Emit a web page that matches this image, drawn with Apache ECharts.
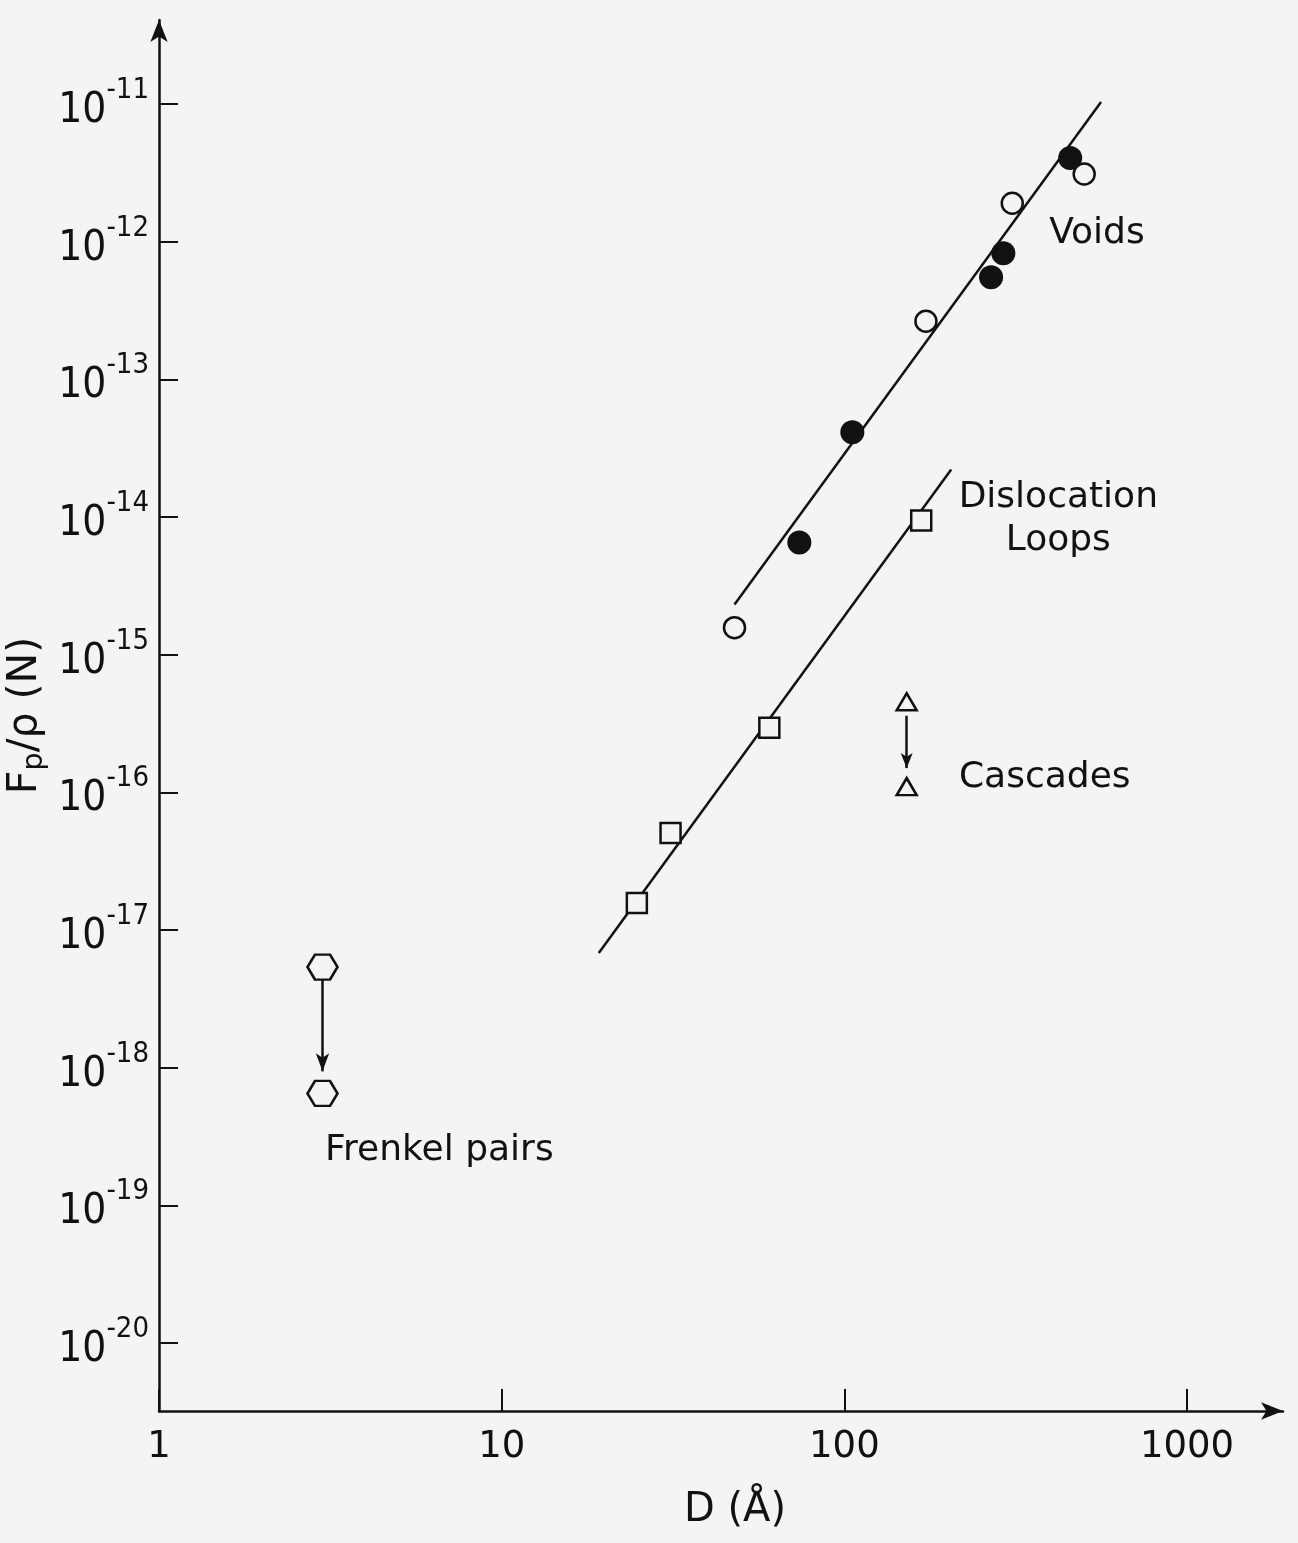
<!DOCTYPE html>
<html><head><meta charset="utf-8">
<script src="https://cdn.jsdelivr.net/npm/echarts@6/dist/echarts.min.js"></script>
<style>html,body{margin:0;padding:0;background:#f4f4f4}#c{width:1298px;height:1543px}</style>
</head><body><div id="c"></div>
<script>
// ---- data ----
const xTicks = [1, 10, 100, 1000];
const yTicks = [1e-20, 1e-19, 1e-18, 1e-17, 1e-16, 1e-15, 1e-14, 1e-13, 1e-12, 1e-11];
const voidsOpen = [[47.8, 1.57e-15], [173, 2.64e-13], [309, 1.9e-12], [501, 3.1e-12]];
const voidsFilled = [[73.9, 6.53e-15], [105.5, 4.12e-14], [268, 5.52e-13], [291, 8.25e-13], [456, 4.05e-12]];
const voidsFit = [[47.8, 2.31e-15], [561, 1.035e-11]];
const loops = [[24.8, 1.57e-17], [31.1, 5.07e-17], [60.4, 2.94e-16], [167.6, 9.43e-15]];
const loopsFit = [[19.2, 6.8e-18], [205, 2.21e-14]];
const cascades = [[152, 4.55e-16], [152, 1.1e-16]];
const cascadesArrow = [[152, 3.6e-16], [152, 1.5e-16]];
const frenkel = [[3, 5.38e-18], [3, 6.5e-19]];
const frenkelArrow = [[3, 4.35e-18], [3, 9.4e-19]];
const notesLeft = [[396, 1.15e-12, 'Voids'], [216, 1.28e-16, 'Cascades'], [3.05, 2.5e-19, 'Frenkel pairs']];
const notesCenter = [[421, 9.6e-15, 'Dislocation\nLoops']];

const INK = '#111';
const BG = '#f4f4f4';
const FONT = 'DejaVu Sans';
const NARROW = 'DejaVu Sans Condensed';
const hexagon = 'path://M0,10 L5,1.34 L15,1.34 L20,10 L15,18.66 L5,18.66 Z';

const chart = echarts.init(document.getElementById('c'), null, {renderer: 'canvas'});
const hollow = {color: BG, borderColor: INK, borderWidth: 2.5, opacity: 1};

chart.setOption({
  backgroundColor: BG,
  animation: false,
  grid: {left: 159, right: 15, top: 20, bottom: 132, containLabel: false, outerBoundsMode: 'none'},
  xAxis: {
    type: 'log', logBase: 10,
    min: 1, max: Math.pow(10, 3.28),
    name: 'D (Å)', nameLocation: 'middle', nameGap: 80, nameMoveOverlap: false,
    nameTextStyle: {fontFamily: FONT, fontSize: 40, color: INK, padding: [0, 0, 0, 28]},
    axisLine: {show: true, symbol: ['none', 'arrow'], symbolSize: [13, 22], lineStyle: {color: INK, width: 2.5}},
    axisTick: {show: true, inside: true, length: 22, customValues: xTicks, lineStyle: {color: INK, width: 2}},
    axisLabel: {show: true, customValues: xTicks, margin: 18, fontFamily: FONT, fontSize: 37, color: INK,
      formatter: v => String(Math.round(v))},
    splitLine: {show: false}, minorTick: {show: false}
  },
  yAxis: {
    type: 'log', logBase: 10,
    min: Math.pow(10, -20.494), max: Math.pow(10, -10.39),
    name: 'F{sub|p}/ρ (N)', nameLocation: 'middle', nameRotate: 90, nameGap: 110, nameMoveOverlap: false,
    nameTextStyle: {fontFamily: FONT, fontSize: 41, color: INK,
      rich: {sub: {fontFamily: FONT, fontSize: 29, color: INK, verticalAlign: 'bottom', lineHeight: 48}}},
    axisLine: {show: true, symbol: ['none', 'arrow'], symbolSize: [13, 22], lineStyle: {color: INK, width: 2.5}},
    axisTick: {show: true, inside: true, length: 19, customValues: yTicks, lineStyle: {color: INK, width: 2}},
    axisLabel: {show: true, customValues: yTicks, margin: 10, color: INK,
      formatter: v => '{b|10}{s|-' + Math.abs(Math.round(Math.log10(v))) + '}',
      rich: {
        b: {fontFamily: NARROW, fontSize: 42, color: INK, verticalAlign: 'bottom', lineHeight: 56},
        s: {fontFamily: NARROW, fontSize: 29, color: INK, verticalAlign: 'top', lineHeight: 56}
      }},
    splitLine: {show: false}, minorTick: {show: false}
  },
  series: [
    {type: 'line', data: voidsFit, symbol: 'none', lineStyle: {color: INK, width: 2.5}, z: 1, silent: true},
    {type: 'line', data: loopsFit, symbol: 'none', lineStyle: {color: INK, width: 2.5}, z: 1, silent: true},
    {type: 'scatter', data: voidsOpen, symbol: 'circle', symbolSize: 21, itemStyle: hollow, z: 3},
    {type: 'scatter', data: voidsFilled, symbol: 'circle', symbolSize: 24, itemStyle: {color: INK, opacity: 1}, z: 3},
    {type: 'scatter', data: loops, symbol: 'rect', symbolSize: 20, itemStyle: hollow, z: 3},
    {type: 'scatter', data: cascades, symbol: 'triangle', symbolSize: [20, 17], itemStyle: hollow, z: 3,
      markLine: {silent: true, symbol: ['none', 'arrow'], symbolSize: [9, 15], label: {show: false},
        lineStyle: {type: 'solid', color: INK, width: 2.5, opacity: 1},
        data: [[{coord: cascadesArrow[0]}, {coord: cascadesArrow[1]}]]}},
    {type: 'scatter', data: frenkel, symbol: hexagon, symbolSize: [30, 25], itemStyle: hollow, z: 3,
      markLine: {silent: true, symbol: ['none', 'arrow'], symbolSize: [10, 18], label: {show: false},
        lineStyle: {type: 'solid', color: INK, width: 2.5, opacity: 1},
        data: [[{coord: frenkelArrow[0]}, {coord: frenkelArrow[1]}]]}},
    {type: 'scatter', data: notesLeft, symbolSize: 0, silent: true, z: 4, itemStyle: {opacity: 1},
      label: {show: true, position: 'right', distance: 0, formatter: p => p.data[2],
        fontFamily: FONT, fontSize: 36, color: INK}},
    {type: 'scatter', data: notesCenter, symbolSize: 0, silent: true, z: 4, itemStyle: {opacity: 1},
      label: {show: true, position: 'inside', align: 'center', verticalAlign: 'middle', formatter: p => p.data[2],
        fontFamily: FONT, fontSize: 36, lineHeight: 43, color: INK}}
  ]
});
</script>
</body></html>
